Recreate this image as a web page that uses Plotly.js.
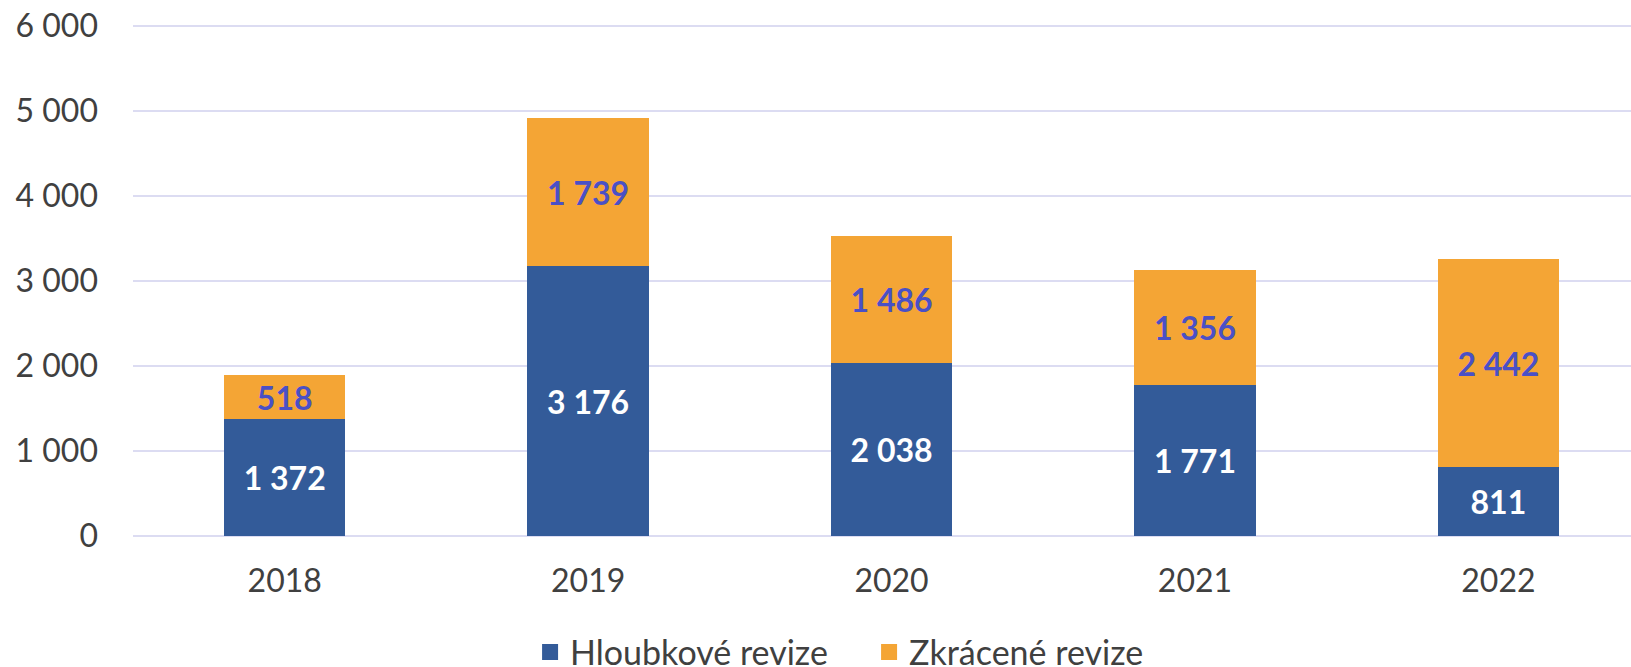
<!DOCTYPE html>
<html>
<head>
<meta charset="utf-8">
<script src="https://cdn.plot.ly/plotly-3.0.1.min.js"></script>
<style>html,body{margin:0;padding:0;background:#fff;}#chart{width:1631px;height:667px;}</style>
</head>
<body>
<div id="chart"></div>
<script>
const years = ['2018', '2019', '2020', '2021', '2022'];
const hloubkove = [1372, 3176, 2038, 1771, 811];
const zkracene = [518, 1739, 1486, 1356, 2442];
const seriesNames = ['Hloubkové revize', 'Zkrácené revize'];
const seriesColors = ['#335B99', '#F4A535'];
const labelColors = ['#FFFFFF', '#4A50C6'];
const yTicks = [0, 1000, 2000, 3000, 4000, 5000, 6000];

const FONT = 'Lato, "Open Sans", sans-serif';

const seriesValues = [hloubkove, zkracene];
const traces = [];
seriesValues.forEach((vals, i) => {
  traces.push({
    type: 'bar', name: seriesNames[i], x: years, y: vals,
    marker: {color: seriesColors[i]},
    texttemplate: '%{y:,}', textposition: 'inside', insidetextanchor: 'middle',
    constraintext: 'none',
    textfont: {family: FONT, size: 32, color: labelColors[i], weight: 'bold'},
    hoverinfo: 'skip', showlegend: false, legendgroup: 'g' + i
  });
});
// legend-only entries with larger square swatches
seriesNames.forEach((nm, i) => {
  traces.push({
    type: 'scatter', mode: 'markers', name: nm, x: [null], y: [null],
    marker: {symbol: 'square', size: 16, color: seriesColors[i]},
    hoverinfo: 'skip', showlegend: true, legendgroup: 'g' + i
  });
});

const layout = {
  width: 1631, height: 667,
  margin: {l: 133, r: 0, t: 24, b: 131, autoexpand: false},
  barmode: 'stack', bargap: 0.6,
  separators: ', ',
  paper_bgcolor: '#fff', plot_bgcolor: '#fff',
  font: {family: FONT, size: 32, color: '#404040'},
  showlegend: true,
  legend: {
    orientation: 'h', xref: 'container', yref: 'container',
    x: 0.325, xanchor: 'left', y: 0.022, yanchor: 'middle',
    font: {family: FONT, size: 34, color: '#404040'}, traceorder: 'normal',
    itemwidth: 30, entrywidth: 294, entrywidthmode: 'pixels'
  },
  xaxis: {
    type: 'category', range: [-0.5, 4.437],
    showgrid: false, zeroline: false, showline: false, ticks: '',
    tickfont: {family: FONT, size: 32, color: '#404040'},
    ticklabelstandoff: 23
  },
  yaxis: {
    range: [0, 6023.5], tickvals: yTicks, tickformat: ',',
    showgrid: true, gridcolor: '#DCDCF2', gridwidth: 2,
    zeroline: true, zerolinecolor: '#DCDCF2', zerolinewidth: 2,
    showline: false, ticks: '',
    tickfont: {family: FONT, size: 32, color: '#404040'},
    ticklabelstandoff: 34
  }
};

Plotly.newPlot('chart', traces, layout, {displayModeBar: false, staticPlot: true});
</script>
</body>
</html>
